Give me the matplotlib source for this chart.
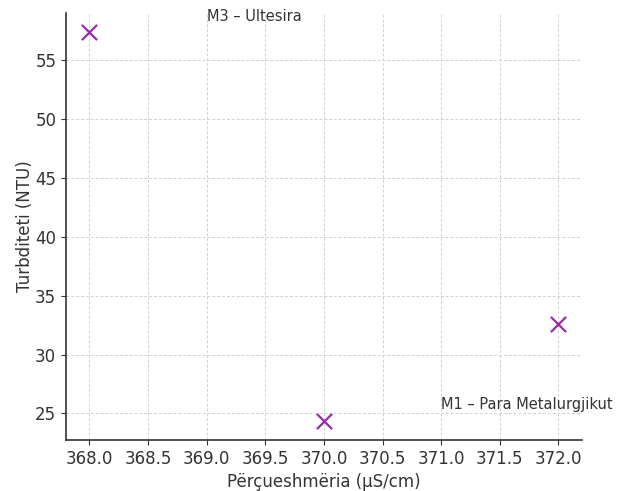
import matplotlib
matplotlib.use("Agg")
import matplotlib.pyplot as plt

# data
conductivity = [368.0, 370.0, 372.0]
turbidity = [57.3, 24.4, 32.6]
labels = ["M3 – Ultesira", "M1 – Para Metalurgjikut", "M2"]

fig = plt.figure(figsize=(6.19, 4.91), dpi=100)
ax = fig.add_axes([0.1066, 0.1039, 0.8334, 0.8696])

ax.scatter(conductivity, turbidity, marker="x", s=120, color="#9a2ca8", linewidths=1.6, zorder=3)

# only the first two labels are visible in the reference
for x, y, lab in zip(conductivity[:2], turbidity[:2], labels[:2]):
    ax.text(x + 1.0, y + 1.0, lab, fontsize=10.5, color="#333333", clip_on=False)

ax.grid(True, linestyle=(0, (3, 2)), color="#d0d0d0", linewidth=0.7)
ax.set_axisbelow(True)
for s in ["top", "right"]:
    ax.spines[s].set_visible(False)
for s in ["left", "bottom"]:
    ax.spines[s].set_color("#333333")
    ax.spines[s].set_linewidth(1.2)

ax.tick_params(labelsize=12, colors="#333333")
ax.set_xlabel("Përçueshmëria (µS/cm)", fontsize=12, color="#333333")
ax.set_ylabel("Turbditeti (NTU)", fontsize=12, color="#333333", labelpad=1)

fig.savefig("out.png", dpi=100)
